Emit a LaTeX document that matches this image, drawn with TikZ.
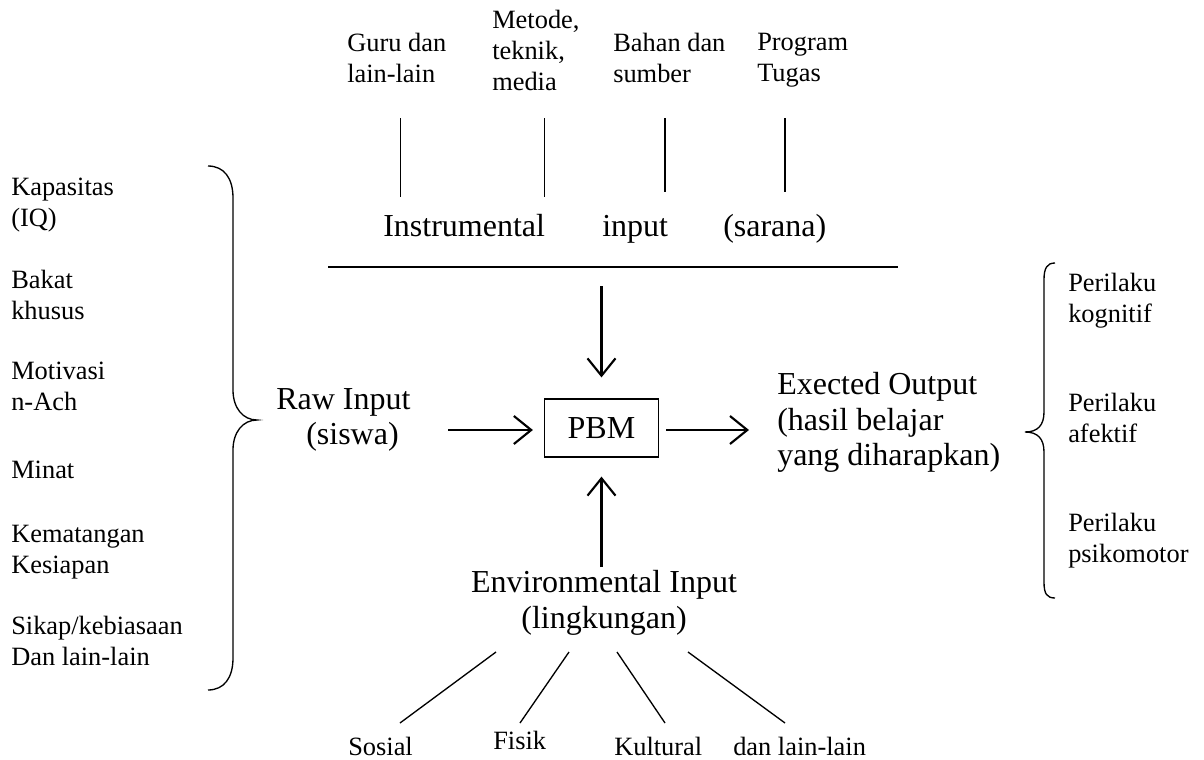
\documentclass[tikz,border=0pt]{standalone}
\usepackage{fontspec}
\setmainfont{Liberation Serif}
\usetikzlibrary{arrows.meta}
\begin{document}
\begin{tikzpicture}[x=0.75pt,y=-0.75pt,
  smalltxt/.style={font=\fontsize{19.8}{23.25}\selectfont, inner sep=0pt, align=left, anchor=north west, execute at begin node=\strut},
  bottomtxt/.style={font=\fontsize{19.8}{23.25}\selectfont, inner sep=0pt, anchor=base west},
  largetxt/.style={font=\fontsize{24}{26.6}\selectfont, inner sep=0pt},
  largeblock/.style={largetxt, execute at begin node=\strut},
  pbmbox/.style={draw, line width=0.9pt, minimum width=85.5pt, minimum height=43.5pt, inner sep=0pt, font=\fontsize{24}{26.6}\selectfont},
  arr/.style={line width=1.6pt, -{Straight Barb[length=13pt,width=21pt]}},
  thinline/.style={line width=1pt},
  bracestyle/.style={line width=1pt}
]
\useasboundingbox (0,0) rectangle (1204,760);

% top labels
\node[smalltxt] (guru) at (347,33.3) {Guru dan\\lain-lain};
\node[smalltxt] (metode) at (492,10.3) {Metode,\\teknik,\\media};
\node[smalltxt] (bahan) at (613,33.3) {Bahan dan\\sumber};
\node[smalltxt] (program) at (757,33.3) {Program\\Tugas};

\coordinate (v1a) at (400.7,118); \coordinate (v1b) at (400.7,197);
\coordinate (v2a) at (544.7,118); \coordinate (v2b) at (544.7,197);
\coordinate (v3a) at (665,118);   \coordinate (v3b) at (665,192);
\coordinate (v4a) at (785,118);   \coordinate (v4b) at (785,192);
\draw[thinline] (v1a) -- (v1b);
\draw[thinline] (v2a) -- (v2b);
\draw[thinline] (v3a) -- (v3b);
\draw[thinline] (v4a) -- (v4b);

\node[largetxt, anchor=base west] (instr) at (383,236) {Instrumental};
\node[largetxt, anchor=base west] (inp) at (602,236) {input};
\node[largetxt, anchor=base west] (sarana) at (723,236) {(sarana)};

\coordinate (hl) at (328,267); \coordinate (hr) at (898,267);
\draw[line width=2pt] (hl) -- (hr);

% centre
\node[pbmbox] (pbm) at (601.5,428) {PBM};

\node[largeblock, align=left, anchor=north west] (raw) at (276,388.2) {Raw Input\\\hspace*{22.5pt}(siswa)};
\node[largeblock, align=left, anchor=north west] (out) at (777,372.2) {Exected Output\\(hasil belajar\\yang diharapkan)};
\node[largeblock, align=center, anchor=north] (env) at (604,570.2) {Environmental Input\\(lingkungan)};

\coordinate (downstart) at (601.5,286);
\draw[arr, shorten >=15.75pt] (downstart) -- (downstart |- pbm.north);
\coordinate (rawarr) at (448,430);
\draw[arr, shorten >=8.25pt] (rawarr) -- (rawarr -| pbm.west);
\coordinate (outtip) at (749,430);
\draw[arr, shorten <=5.25pt] (pbm.east |- outtip) -- (outtip);
\coordinate (upstart) at (601.5,567);
\draw[arr, shorten >=14.25pt] (upstart) -- (upstart |- pbm.south);

% left list
\node[smalltxt] (kap) at (11,177.3) {Kapasitas\\(IQ)};
\node[smalltxt] (bak) at (11,270.3) {Bakat\\khusus};
\node[smalltxt] (mot) at (11,361.3) {Motivasi\\n-Ach};
\node[smalltxt] (min) at (11,456.3) {Minat};
\node[smalltxt] (kem) at (11,525.3) {Kematangan\\Kesiapan};
\node[smalltxt] (sik) at (11,616.3) {Sikap/kebiasaan\\Dan lain-lain};

\draw[bracestyle] (208,166) .. controls (224,166) and (233,178) .. (233,198)
  -- (233,390) .. controls (233,408) and (243,420) .. (257,420)
  .. controls (243,420) and (233,432) .. (233,450)
  -- (233,658) .. controls (233,678) and (224,690) .. (208,690);

% right list
\node[smalltxt] (kog) at (1068,273.3) {Perilaku\\kognitif};
\node[smalltxt] (afe) at (1068,393.3) {Perilaku\\afektif};
\node[smalltxt] (psi) at (1068,513.3) {Perilaku\\psikomotor};

\draw[bracestyle] (1055,263) .. controls (1047,263) and (1044,268) .. (1044,280)
  -- (1044,412) .. controls (1044,425) and (1038,432) .. (1025,432)
  .. controls (1038,432) and (1044,439) .. (1044,452)
  -- (1044,582) .. controls (1044,594) and (1047,598) .. (1055,598);

% bottom
\node[bottomtxt] (sos) at (348,755) {Sosial};
\node[bottomtxt] (fis) at (493,749) {Fisik};
\node[bottomtxt] (kul) at (614,755) {Kultural};
\node[bottomtxt] (dll) at (733,755) {dan lain-lain};

\coordinate (b1a) at (496,652); \coordinate (b1b) at (400,723);
\coordinate (b2a) at (569,652); \coordinate (b2b) at (520,723);
\coordinate (b3a) at (617,652); \coordinate (b3b) at (665,723);
\coordinate (b4a) at (688,652); \coordinate (b4b) at (785,723);
\draw[thinline] (b1a) -- (b1b);
\draw[thinline] (b2a) -- (b2b);
\draw[thinline] (b3a) -- (b3b);
\draw[thinline] (b4a) -- (b4b);
\end{tikzpicture}
\end{document}
